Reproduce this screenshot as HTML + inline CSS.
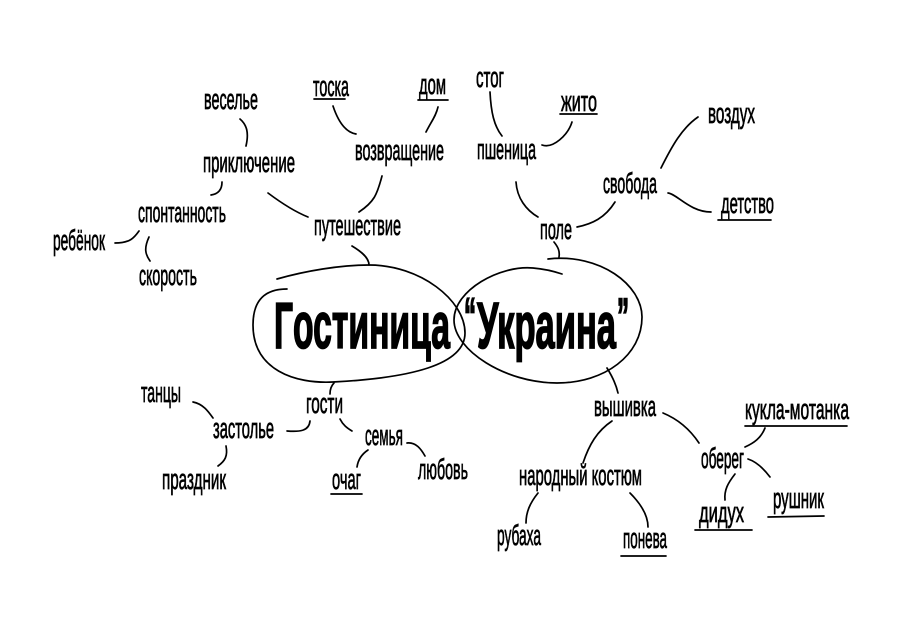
<!DOCTYPE html>
<html lang="ru">
<head>
<meta charset="utf-8">
<title>Гостиница “Украина”</title>
<style>
html,body{margin:0;padding:0;background:#fff}
svg{display:block}
.l path,.l line{fill:none;stroke:#000;stroke-linecap:round}
.t text{font-family:"Liberation Sans",sans-serif;font-size:29px;fill:#000;stroke:#000;stroke-width:.75px}
.b text{font-family:"Liberation Sans",sans-serif;font-weight:bold;font-size:65px;fill:#000;stroke:#000;stroke-width:1.8px}
</style>
</head>
<body>
<svg width="900" height="636" viewBox="0 0 900 636" xmlns="http://www.w3.org/2000/svg">
<g class="l" stroke-width="1.7">
<path d="M277 279C305 271 340 265 369 265C420 265 465 300 465 333C465 365 410 378 333 382C295 384 253 370 253 325C253 300 265 289 287 289"/>
<path d="M548 259C600 253 642 285 642 317C642 355 605 383 557 383C505 383 454 350 454 320C454 290 500 265 533 268C545 269 553 271 562 274"/>
<path d="M240 119C247 125 249 133 246 146"/>
<path d="M333 106C337 118 344 132 356 134"/>
<path d="M438 107C436 116 431 122 426 132"/>
<path d="M222 182C222 190 218 194 211 195"/>
<path d="M268 193C280 202 293 211 308 217"/>
<path d="M382 176C377 195 374 202 359 212"/>
<path d="M115 243C130 243 134 238 139 231"/>
<path d="M149 237C144 248 145 254 150 261"/>
<path d="M352 246C362 252 369 258 369 265"/>
<path d="M334 383C331 386 330 390 330 394"/>
<path d="M607 368C612 376 616 384 618 393"/>
<path d="M554 242C558 247 560 251 559 257"/>
<path d="M516 182C517 198 526 210 538 217"/>
<path d="M490 92C491 112 494 126 502 136"/>
<path d="M572 122C568 135 553 149 542 145"/>
<path d="M615 202C605 218 592 224 577 227"/>
<path d="M661 168C672 146 682 128 698 117"/>
<path d="M668 193C677 194 690 212 711 212"/>
<path d="M193 402C203 404 208 411 213 418"/>
<path d="M287 431C300 432 309 431 310 421"/>
<path d="M226 446C228 456 225 461 218 466"/>
<path d="M340 419C343 425 347 428 352 431"/>
<path d="M368 450C362 454 358 460 357 467"/>
<path d="M407 443C416 442 421 449 425 456"/>
<path d="M612 421C597 431 589 445 583 463"/>
<path d="M663 413C680 420 691 431 699 443"/>
<path d="M765 428C761 438 754 443 745 447"/>
<path d="M748 459C757 462 764 469 770 477"/>
<path d="M735 474C728 483 724 490 725 500"/>
<path d="M538 493C530 503 526 512 526 523"/>
<path d="M630 493C640 503 648 515 648 527"/>
<line x1="314" y1="99" x2="345" y2="99"/>
<line x1="418" y1="100" x2="448" y2="100"/>
<line x1="560" y1="114" x2="597" y2="114"/>
<line x1="718" y1="220" x2="771" y2="220"/>
<line x1="331" y1="494" x2="362" y2="494"/>
<line x1="745" y1="426" x2="847" y2="426"/>
<line x1="768" y1="517" x2="824" y2="516"/>
<line x1="695" y1="530" x2="752" y2="530"/>
<line x1="621" y1="556" x2="666" y2="556"/>
</g>
<g class="t">
<text x="204" y="109" textLength="54" lengthAdjust="spacingAndGlyphs">веселье</text>
<text x="313" y="96" textLength="36" lengthAdjust="spacingAndGlyphs">тоска</text>
<text x="419" y="94" textLength="27" lengthAdjust="spacingAndGlyphs">дом</text>
<text x="203" y="172" textLength="92" lengthAdjust="spacingAndGlyphs">приключение</text>
<text x="355" y="160" textLength="89" lengthAdjust="spacingAndGlyphs">возвращение</text>
<text x="138" y="222" textLength="88" lengthAdjust="spacingAndGlyphs">спонтанность</text>
<text x="314" y="235" textLength="87" lengthAdjust="spacingAndGlyphs">путешествие</text>
<text x="53" y="250" textLength="52" lengthAdjust="spacingAndGlyphs">ребёнок</text>
<text x="139" y="285" textLength="58" lengthAdjust="spacingAndGlyphs">скорость</text>
<text x="476" y="87" textLength="28" lengthAdjust="spacingAndGlyphs">стог</text>
<text x="561" y="111" textLength="36" lengthAdjust="spacingAndGlyphs">жито</text>
<text x="477" y="159" textLength="59" lengthAdjust="spacingAndGlyphs">пшеница</text>
<text x="708" y="123" textLength="47" lengthAdjust="spacingAndGlyphs">воздух</text>
<text x="603" y="193" textLength="54" lengthAdjust="spacingAndGlyphs">свобода</text>
<text x="721" y="213" textLength="53" lengthAdjust="spacingAndGlyphs">детство</text>
<text x="540" y="239" textLength="32" lengthAdjust="spacingAndGlyphs">поле</text>
<text x="141" y="402" textLength="40" lengthAdjust="spacingAndGlyphs">танцы</text>
<text x="213" y="438" textLength="61" lengthAdjust="spacingAndGlyphs">застолье</text>
<text x="306" y="413" textLength="37" lengthAdjust="spacingAndGlyphs">гости</text>
<text x="365" y="445" textLength="38" lengthAdjust="spacingAndGlyphs">семья</text>
<text x="332" y="489" textLength="29" lengthAdjust="spacingAndGlyphs">очаг</text>
<text x="418" y="479" textLength="50" lengthAdjust="spacingAndGlyphs">любовь</text>
<text x="162" y="489" textLength="64" lengthAdjust="spacingAndGlyphs">праздник</text>
<text x="594" y="416" textLength="62" lengthAdjust="spacingAndGlyphs">вышивка</text>
<text x="745" y="419" textLength="104" lengthAdjust="spacingAndGlyphs">кукла-мотанка</text>
<text x="701" y="468" textLength="43" lengthAdjust="spacingAndGlyphs">оберег</text>
<text x="519" y="485" textLength="123" lengthAdjust="spacingAndGlyphs">народный костюм</text>
<text x="773" y="508" textLength="51" lengthAdjust="spacingAndGlyphs">рушник</text>
<text x="699" y="522" textLength="45" lengthAdjust="spacingAndGlyphs">дидух</text>
<text x="497" y="545" textLength="44" lengthAdjust="spacingAndGlyphs">рубаха</text>
<text x="623" y="548" textLength="44" lengthAdjust="spacingAndGlyphs">понева</text>
</g>
<g class="b">
<text x="274" y="348" textLength="19" lengthAdjust="spacingAndGlyphs">Г</text>
<text x="293" y="348" textLength="157" lengthAdjust="spacingAndGlyphs">остиница</text>
<text x="464" y="333" style="font-size:50px" textLength="12" lengthAdjust="spacingAndGlyphs">“</text>
<text x="477" y="348" textLength="139" lengthAdjust="spacingAndGlyphs">Украина</text>
<text x="617" y="333" style="font-size:50px" textLength="12" lengthAdjust="spacingAndGlyphs">”</text>
</g>
</svg>
</body>
</html>
